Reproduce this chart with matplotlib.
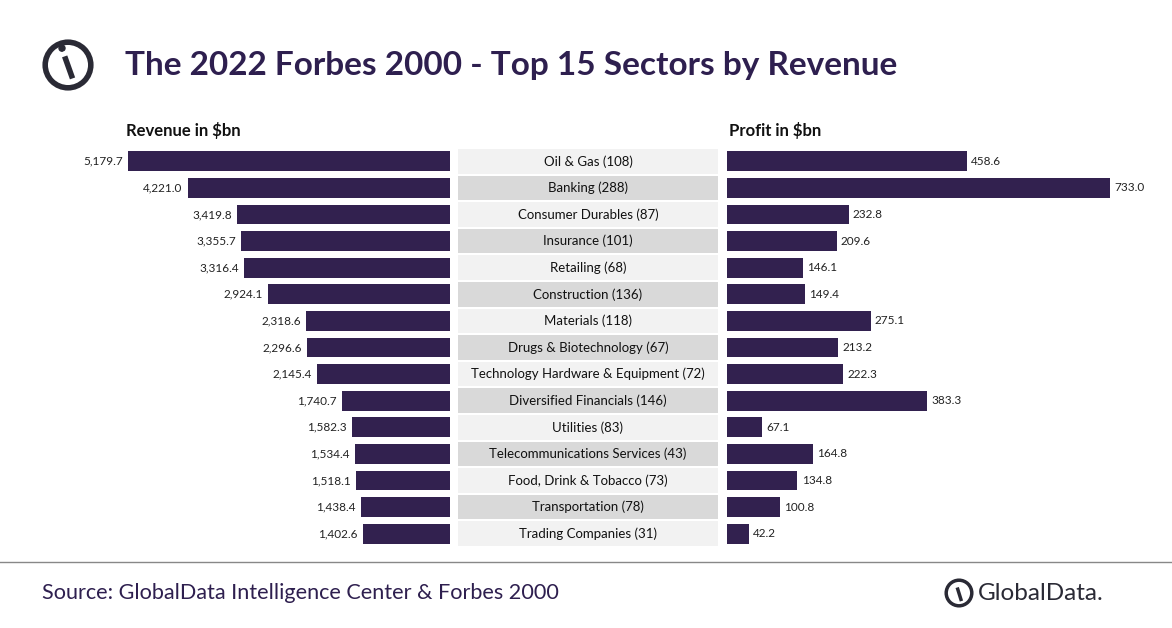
import matplotlib
matplotlib.use("Agg")
import matplotlib.pyplot as plt
from matplotlib.patches import Circle, Rectangle

plt.rcParams['font.family'] = ['Lato', 'DejaVu Sans']

sectors = ["Oil & Gas (108)", "Banking (288)", "Consumer Durables (87)", "Insurance (101)",
           "Retailing (68)", "Construction (136)", "Materials (118)", "Drugs & Biotechnology (67)",
           "Technology Hardware & Equipment (72)", "Diversified Financials (146)", "Utilities (83)",
           "Telecommunications Services (43)", "Food, Drink & Tobacco (73)", "Transportation (78)",
           "Trading Companies (31)"]
revenue = [5179.7, 4221.0, 3419.8, 3355.7, 3316.4, 2924.1, 2318.6, 2296.6, 2145.4, 1740.7,
           1582.3, 1534.4, 1518.1, 1438.4, 1402.6]
profit = [458.6, 733.0, 232.8, 209.6, 146.1, 149.4, 275.1, 213.2, 222.3, 383.3, 67.1, 164.8,
          134.8, 100.8, 42.2]

W, H = 1172, 628
BAR = '#32214f'
TXT = '#2e1f4f'
fig = plt.figure(figsize=(W/100, H/100), dpi=100)

def ax_px(x0, x1, y0, y1):
    return fig.add_axes([x0/W, 1-y1/H, (x1-x0)/W, (y1-y0)/H])

y = list(range(len(sectors)))
top, bot = 148, 547

axl = ax_px(100, 450, top, bot)
axl.barh(y, revenue, height=0.75, color=BAR)
axl.set_xlim(5179.7*350/322, 0)
axl.set_ylim(14.5, -0.5)
for yi, v in zip(y, revenue):
    axl.text(v + 80, yi, f"{v:,.1f}", ha='right', va='center', fontsize=8.5, color='#222222')
axl.axis('off')

axc = ax_px(458, 718, top, bot)
axc.set_xlim(0, 1)
axc.set_ylim(14.5, -0.5)
for yi, s in zip(y, sectors):
    c = '#f2f2f2' if yi % 2 == 0 else '#d9d9d9'
    axc.add_patch(Rectangle((0, yi-0.46), 1, 0.92, color=c, lw=0))
    axc.text(0.5, yi, s, ha='center', va='center', fontsize=9.5, color='#111111')
axc.axis('off')

axr = ax_px(727, 1150, top, bot)
axr.barh(y, profit, height=0.75, color=BAR)
axr.set_xlim(0, 733*423/383)
axr.set_ylim(14.5, -0.5)
for yi, v in zip(y, profit):
    axr.text(v + 8, yi, f"{v:,.1f}", ha='left', va='center', fontsize=8.5, color='#222222')
axr.axis('off')

fig.text(126/W, 1-130/H, "Revenue in $bn", fontsize=12, fontweight='bold', color='#111111', va='center')
fig.text(729/W, 1-130/H, "Profit in $bn", fontsize=12, fontweight='bold', color='#111111', va='center')

fig.text(125/W, 1-65/H, "The 2022 Forbes 2000 - Top 15 Sectors by Revenue", fontsize=24,
         fontweight='bold', color=TXT, va='center')

axlogo = ax_px(38, 98, 35, 95)
axlogo.set_xlim(0, 1); axlogo.set_ylim(0, 1); axlogo.set_aspect('equal')
axlogo.add_patch(Circle((0.5, 0.5), 0.38, fill=False, lw=4, color='#2a2a35'))
axlogo.plot([0.42, 0.58], [0.72, 0.28], color='white', lw=8, solid_capstyle='butt')
axlogo.plot([0.46, 0.56], [0.6, 0.32], color='#2a2a35', lw=4)
axlogo.add_patch(Circle((0.4, 0.78), 0.05, color='#2a2a35'))
axlogo.axis('off')

fig.add_artist(plt.Line2D([0, 1], [1-562/H, 1-562/H], color='#888888', lw=1))
fig.text(42/W, 1-593/H, "Source: GlobalData Intelligence Center & Forbes 2000", fontsize=15.6,
         color=TXT, va='center')

axg = ax_px(943, 975, 577, 609)
axg.set_xlim(0, 1); axg.set_ylim(0, 1); axg.set_aspect('equal')
axg.add_patch(Circle((0.5, 0.5), 0.4, fill=False, lw=2.5, color='#2a2a35'))
axg.plot([0.42, 0.58], [0.75, 0.25], color='white', lw=5, solid_capstyle='butt')
axg.plot([0.46, 0.56], [0.62, 0.3], color='#2a2a35', lw=2.5)
axg.axis('off')
fig.text(978/W, 1-594/H, "GlobalData.", fontsize=17.5, color='#2a2a35', va='center')

fig.savefig("out.png", dpi=100)
